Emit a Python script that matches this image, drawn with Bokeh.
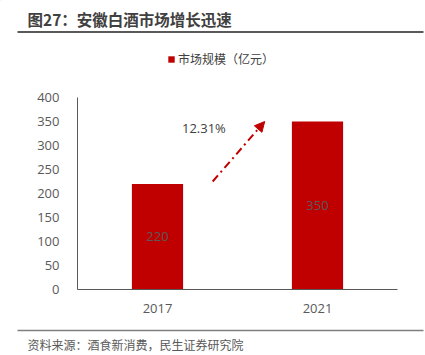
from bokeh.plotting import figure
from bokeh.layouts import column, row
from bokeh.models import ColumnDataSource, Label, Arrow, NormalHead, Legend, LegendItem, FactorRange, Range1d
from bokeh.core.properties import value
from bokeh.embed import file_html
from bokeh.resources import INLINE

# ---- data ----
years = ["2017", "2021"]
market_size = [220, 350]
growth_label = "12.31%"
y_ticks = [0, 50, 100, 150, 200, 250, 300, 350, 400]
title_text = "图27：安徽白酒市场增长迅速"
legend_text = "市场规模（亿元）"
source_text = "资料来源：酒食新消费，民生证券研究院"

RED = "#C00000"
CJK = "Noto Sans CJK SC"
NUM = "Open Sans"
W = 425


def deco_fig(h):
    f = figure(width=W, height=h, x_range=Range1d(0, W), y_range=Range1d(h, 0),
               x_axis_type=None, y_axis_type=None, output_backend="svg", toolbar_location=None,
               min_border=0, min_border_left=0, min_border_right=0, min_border_top=0, min_border_bottom=0)
    f.outline_line_color = None
    f.xgrid.grid_line_color = None
    f.ygrid.grid_line_color = None
    f.border_fill_color = "white"
    f.background_fill_color = "white"
    return f


# ---- header: title, rule and legend ----
HH = 70
hdr = deco_fig(HH)
hdr.text(x=[27], y=[18], text=[title_text], text_align="left", text_baseline="middle",
         text_font=value(CJK), text_font_size="15.5px", text_font_style="bold", text_color="#404040")
hdr.line(x=[17, 423], y=[31.5, 31.5], line_color="#595959", line_width=2)
legend_glyph = hdr.vbar(x=[-100], top=[-100], bottom=[-101], width=1, fill_color=RED, line_color=None)
legend = Legend(items=[LegendItem(label=legend_text, renderers=[legend_glyph])],
                location=(167, HH - 67), orientation="horizontal",
                glyph_width=8, glyph_height=8, label_standoff=3, padding=0, margin=0,
                border_line_alpha=0, background_fill_alpha=0,
                label_text_font=CJK, label_text_font_size="12px", label_text_color="#404040")
hdr.add_layout(legend, "center")

# ---- main chart ----
src = ColumnDataSource(dict(
    year=years,
    size=market_size,
    half=[v / 2 for v in market_size],
    lbl=[str(v) for v in market_size],
))

MH = 250
p = figure(
    x_range=FactorRange(*years, range_padding=0),
    y_range=(0, 400),
    width=W, height=MH,
    output_backend="svg", toolbar_location=None,
    min_border_left=77, min_border_right=28, min_border_top=27, min_border_bottom=31,
)
p.outline_line_color = None
p.xgrid.grid_line_color = None
p.ygrid.grid_line_color = None
p.background_fill_color = "white"
p.border_fill_color = "white"

p.vbar(x="year", top="size", width=0.32, source=src, fill_color=RED, line_color=None)
p.text(x="year", y="half", text="lbl", source=src, text_align="center", text_baseline="middle",
       text_font=value(NUM), text_font_size="13px", text_color="#595959")

for ax in (p.xaxis, p.yaxis):
    ax.axis_line_color = "#595959"
    ax.axis_line_width = 1
    ax.major_tick_line_color = None
    ax.minor_tick_line_color = None
    ax.major_label_text_font = NUM
    ax.major_label_text_font_size = "13px"
    ax.major_label_text_color = "#595959"
p.yaxis.ticker = y_ticks
p.yaxis.major_label_standoff = 12
p.xaxis.major_label_standoff = 8

p.add_layout(Arrow(
    end=NormalHead(size=10, fill_color=RED, line_color=RED),
    x_start=0.845, y_start=market_size[0] + 5,
    x_end=1.17, y_end=market_size[1],
    line_color=RED, line_width=2, line_dash="8 4 2 4",
))
p.add_layout(Label(x=0.79, y=337, text=growth_label, text_align="center", text_baseline="middle",
                   text_font=NUM, text_font_size="13px", text_color="#404040"))

# ---- footer: rule and source ----
FH = 35
ftr = deco_fig(FH)
ftr.line(x=[17, 423], y=[10, 10], line_color="#7f7f7f", line_width=1.5)
ftr.text(x=[27], y=[24], text=[source_text], text_align="left", text_baseline="middle",
         text_font=value(CJK), text_font_size="12px", text_color="#595959")

layout = column(row(hdr), row(p), row(ftr), spacing=0)
open("out.html", "w").write(file_html(layout, INLINE))
